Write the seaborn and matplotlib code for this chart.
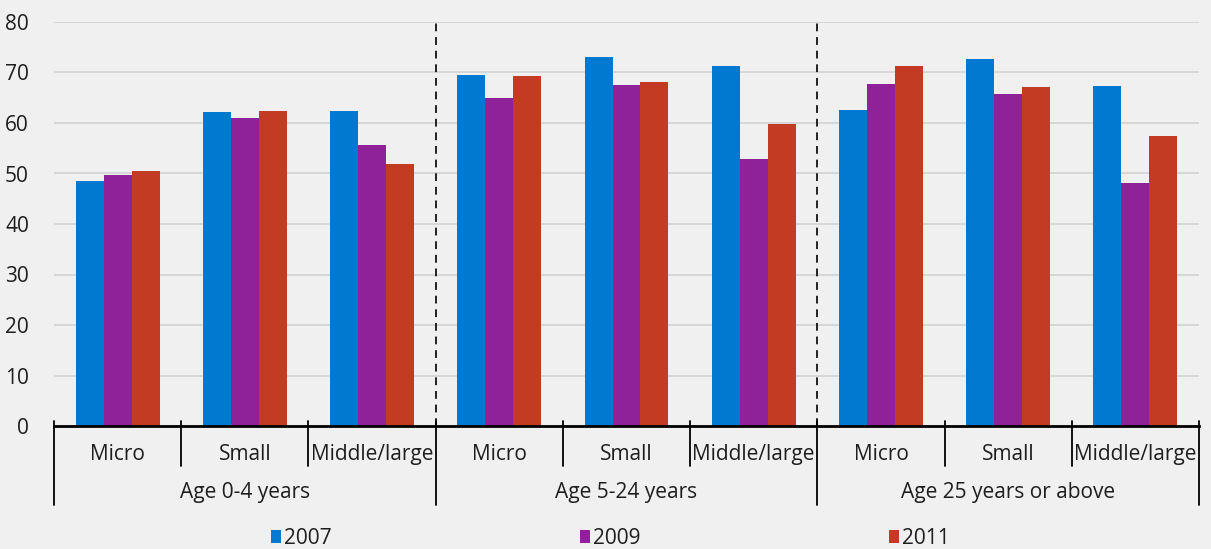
import matplotlib
matplotlib.use("Agg")
import matplotlib.pyplot as plt
import matplotlib.transforms as mtransforms
import pandas as pd
import seaborn as sns

# データ
age_groups = ["Age 0-4 years", "Age 5-24 years", "Age 25 years or above"]
sizes = ["Micro", "Small", "Middle/large"]
years = ["2007", "2009", "2011"]

share_2007 = [48.5, 62.1, 62.3, 69.6, 73.0, 71.2, 62.6, 72.6, 67.3]
share_2009 = [49.8, 60.9, 55.7, 64.9, 67.5, 52.9, 67.7, 65.8, 48.2]
share_2011 = [50.4, 62.4, 51.9, 69.4, 68.1, 59.9, 71.3, 67.2, 57.5]

colors = ["#0279D0", "#8F2299", "#C23B22"]
bg = "#F0F0F0"
text_col = "#1E1E1E"
fs = 15

# 縦長のデータフレームに変換
positions = [f"{g}|{s}" for g in age_groups for s in sizes]
rows = []
for year, values in zip(years, [share_2007, share_2009, share_2011]):
    for pos, v in zip(positions, values):
        rows.append({"pos": pos, "year": year, "value": v})
df = pd.DataFrame(rows)

sns.set_style("white")
plt.rcParams["font.family"] = ["Open Sans", "DejaVu Sans"]

fig = plt.figure(figsize=(12.11, 5.49), dpi=100, facecolor=bg)
ax = fig.add_axes([54 / 1211, 123 / 549, (1199 - 54) / 1211, 404 / 549])
ax.set_facecolor(bg)

sns.barplot(
    data=df, x="pos", y="value", hue="year", order=positions,
    hue_order=years, palette=colors, width=0.66, linewidth=0,
    saturation=1, ax=ax,
)

ax.set_xlim(-0.5, len(positions) - 0.5)
ax.set_ylim(0, 80)
ax.set_yticks(range(0, 81, 10))
ax.tick_params(axis="y", length=0, labelsize=fs, labelcolor=text_col, pad=18)
ax.tick_params(axis="x", length=0, labelbottom=False)
ax.set_xlabel("")
ax.set_ylabel("")
ax.yaxis.grid(True, color="#D3D3D3", linewidth=1.2)
ax.set_axisbelow(True)
for side in ["left", "right", "top"]:
    ax.spines[side].set_visible(False)
ax.spines["bottom"].set_color("black")
ax.spines["bottom"].set_linewidth(2)

# 年齢グループの区切り（破線）
for xb in [2.5, 5.5]:
    ax.axvline(xb, ymin=0, ymax=1.005, color="#222222", linestyle=(0, (4, 3)),
               linewidth=1.4, clip_on=False)

# 下部のカテゴリ区切りとラベル
trans = mtransforms.blended_transform_factory(ax.transData, ax.transAxes)
n = len(positions)
for i in range(n + 1):
    xb = i - 0.5
    bottom = -0.196 if i % 3 == 0 else -0.099
    ax.plot([xb, xb], [0.012, bottom], color="black", linewidth=1.3,
            transform=trans, clip_on=False)
for i, pos in enumerate(positions):
    ax.text(i, -0.07, pos.split("|")[1], transform=trans, ha="center",
            va="center", fontsize=fs, color=text_col)
for gi, g in enumerate(age_groups):
    ax.text(gi * 3 + 1, -0.165, g, transform=trans, ha="center",
            va="center", fontsize=fs, color=text_col)

# 凡例
handles, labels = ax.get_legend_handles_labels()
ax.get_legend().remove()
fig.legend(
    handles, labels, loc="center", bbox_to_anchor=(0.504, 1 - 538 / 549),
    ncol=3, frameon=False, fontsize=fs, handlelength=0.5, handleheight=0.6,
    handletextpad=0.15, columnspacing=11.9, labelcolor=text_col,
)

fig.savefig("out.png", dpi=100, facecolor=bg)
